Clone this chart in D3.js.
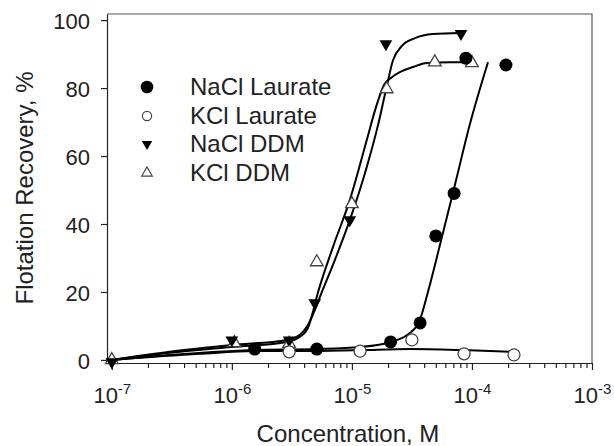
<!DOCTYPE html>
<meta charset="utf-8">
<head>
  <title>Flotation recovery</title>
</head>

<style>
  body { margin: 0; background: #fff; }
  text { font-family: "Liberation Sans", Arial, sans-serif; fill: #222; }
</style>

<body>
  <div id="my_dataviz"></div>

  <script src="https://d3js.org/d3.v7.min.js"></script>
  <script>

  // measured points (concentration in M, recovery in %)
  var naclLaurateX = [1.55e-6, 5.1e-6, 2.1e-5, 3.7e-5, 5.0e-5, 7.1e-5, 8.9e-5, 1.92e-4];
  var naclLaurateY = [3.2, 3.2, 5.3, 10.9, 36.5, 49, 88.8, 86.8];

  var kclLaurateX = [3.0e-6, 1.17e-5, 3.16e-5, 8.6e-5, 2.24e-4];
  var kclLaurateY = [2.4, 2.6, 5.9, 1.8, 1.5];

  var naclDdmX = [1e-7, 1.0e-6, 3.0e-6, 4.9e-6, 9.6e-6, 1.92e-5, 8.1e-5];
  var naclDdmY = [-0.6, 5.8, 5.8, 16.8, 41.2, 93, 96];

  var kclDdmX = [1e-7, 1.05e-6, 3.0e-6, 5.1e-6, 1.0e-5, 1.95e-5, 4.9e-5, 1.0e-4];
  var kclDdmY = [0, 5.0, 4.8, 28.8, 45.9, 79.7, 87.6, 87.4];

  // fitted curves
  var fitNaclLaurateX = [1e-7, 1.56e-6, 5.1e-6, 1.17e-5, 2.11e-5, 3.04e-5, 3.69e-5, 4.3e-5, 5.41e-5, 7.21e-5, 9.62e-5, 1.36e-4];
  var fitNaclLaurateY = [0, 2.9, 3.2, 3.8, 5.3, 7.9, 11.8, 20, 33.8, 51.5, 69.4, 87.6];

  var fitKclLaurateX = [1e-7, 5.41e-7, 1.56e-6, 3.69e-6, 1.17e-5, 3.04e-5, 8.41e-5, 2.24e-4];
  var fitKclLaurateY = [0, 1.8, 2.6, 2.6, 2.9, 3.2, 2.9, 2.4];

  var fitNaclDdmX = [1e-7, 3.04e-7, 1e-6, 2.87e-6, 3.69e-6, 4.3e-6, 4.92e-6, 5.41e-6, 7.21e-6, 9.62e-6, 1.33e-5, 1.65e-5, 1.92e-5, 2.2e-5, 2.61e-5, 3.35e-5, 4.73e-5, 8.09e-5];
  var fitNaclDdmY = [0, 2.4, 4.4, 5.9, 7.4, 10.3, 14.7, 18.5, 29.4, 41.2, 56.8, 69.1, 79.4, 88.2, 92.4, 94.7, 95.9, 96.2];

  var fitKclDdmX = [1e-7, 3.04e-7, 1e-6, 2.87e-6, 3.69e-6, 4.3e-6, 4.73e-6, 5.01e-6, 6.95e-6, 9.62e-6, 1.33e-5, 1.56e-5, 1.85e-5, 2.15e-5, 2.51e-5, 3.22e-5, 4.22e-5, 6.56e-5, 1e-4];
  var fitKclDdmY = [0, 2.1, 3.8, 5.3, 6.8, 9.4, 14.1, 17.6, 33.2, 47.1, 64.7, 73.5, 80.9, 83.2, 84.7, 86.2, 87.4, 87.6, 87.6];

  var legendLabels = ["NaCl Laurate", "KCl Laurate", "NaCl DDM", "KCl DDM"];
  var yTicks = [0, 20, 40, 60, 80, 100];
  var xMajor = [1e-7, 1e-6, 1e-5, 1e-4, 1e-3];
  var xExponents = ["-7", "-6", "-5", "-4", "-3"];

  var margin = {top: 14, right: 22, bottom: 83, left: 107},
      width = 614 - margin.left - margin.right,
      height = 446 - margin.top - margin.bottom;

  var svg = d3.select("#my_dataviz")
    .append("svg")
      .attr("width", 614)
      .attr("height", 446)
    .append("g")
      .attr("transform", "translate(" + margin.left + "," + margin.top + ")");

  var x = d3.scaleLog()
      .domain([Math.pow(10, -7.04), 1e-3])
      .range([0, width]);

  var y = d3.scaleLinear()
      .domain([-0.9, 101.8])
      .range([height, 0]);

  // frame on top and right
  svg.append("path")
      .attr("d", "M0,0H" + width + "V" + height)
      .attr("fill", "none")
      .attr("stroke", "#555")
      .attr("stroke-width", 1.2);

  // minor ticks on x
  var xMinor = [];
  xMajor.slice(0, 4).forEach(function(d) {
    for (var k = 2; k <= 9; k++) xMinor.push(d * k);
  });
  svg.append("g")
      .attr("transform", "translate(0," + height + ")")
      .call(d3.axisBottom(x).tickValues(xMinor).tickSize(5).tickFormat(""))
      .call(function(g) { g.select(".domain").remove(); });

  // x axis with 10^n labels
  var xAxis = svg.append("g")
      .attr("transform", "translate(0," + height + ")")
      .call(d3.axisBottom(x).tickValues(xMajor).tickSize(7).tickSizeOuter(0).tickFormat(""));
  xAxis.selectAll(".tick text")
      .attr("y", 40)
      .attr("dy", 0)
      .style("font-size", "22px")
      .each(function(d, i) {
        var t = d3.select(this);
        t.append("tspan").text("10");
        t.append("tspan").attr("dy", -9).style("font-size", "15px").text(xExponents[i]);
      });

  var yAxis = svg.append("g")
      .call(d3.axisLeft(y).tickValues(yTicks).tickSize(6).tickPadding(11).tickSizeOuter(0));
  yAxis.selectAll(".tick text")
      .attr("dy", "0.4em")
      .style("font-size", "22px");

  svg.selectAll(".domain, .tick line").attr("stroke", "#222").attr("stroke-width", 1.2);

  // axis titles
  svg.append("text")
      .attr("x", 241)
      .attr("y", height + 79)
      .attr("text-anchor", "middle")
      .style("font-size", "24px")
      .text("Concentration, M");

  svg.append("text")
      .attr("transform", "translate(" + (33 - margin.left) + "," + (188 - margin.top) + ") rotate(-90)")
      .attr("text-anchor", "middle")
      .style("font-size", "24px")
      .text("Flotation Recovery, %");

  // fitted lines
  var line = d3.line()
      .x(function(d) { return x(d[0]); })
      .y(function(d) { return y(d[1]); })
      .curve(d3.curveMonotoneX);

  var fits = [
    d3.zip(fitNaclLaurateX, fitNaclLaurateY),
    d3.zip(fitKclLaurateX, fitKclLaurateY),
    d3.zip(fitNaclDdmX, fitNaclDdmY),
    d3.zip(fitKclDdmX, fitKclDdmY)
  ];
  svg.selectAll(".fit")
      .data(fits)
      .enter()
      .append("path")
        .attr("class", "fit")
        .attr("d", line)
        .attr("fill", "none")
        .attr("stroke", "#000")
        .attr("stroke-width", 2);

  var triUp = function(s) { return d3.symbol().type(d3.symbolTriangle).size(s)(); };

  // markers
  svg.selectAll(".kclDdm")
      .data(d3.zip(kclDdmX, kclDdmY))
      .enter()
      .append("path")
        .attr("d", triUp(70))
        .attr("transform", function(d) { return "translate(" + x(d[0]) + "," + y(d[1]) + ")"; })
        .attr("fill", "#fff")
        .attr("stroke", "#444")
        .attr("stroke-width", 1.3);

  svg.selectAll(".naclDdm")
      .data(d3.zip(naclDdmX, naclDdmY))
      .enter()
      .append("path")
        .attr("d", triUp(70))
        .attr("transform", function(d) { return "translate(" + x(d[0]) + "," + y(d[1]) + ") rotate(180)"; })
        .attr("fill", "#000");

  svg.selectAll(".kclLaurate")
      .data(d3.zip(kclLaurateX, kclLaurateY))
      .enter()
      .append("circle")
        .attr("cx", function(d) { return x(d[0]); })
        .attr("cy", function(d) { return y(d[1]); })
        .attr("r", 6)
        .attr("fill", "#fff")
        .attr("stroke", "#444")
        .attr("stroke-width", 1.3);

  svg.selectAll(".naclLaurate")
      .data(d3.zip(naclLaurateX, naclLaurateY))
      .enter()
      .append("circle")
        .attr("cx", function(d) { return x(d[0]); })
        .attr("cy", function(d) { return y(d[1]); })
        .attr("r", 6.5)
        .attr("fill", "#000");

  // handmade legend
  var lg = svg.append("g").attr("transform", "translate(" + (147 - margin.left) + "," + (87 - margin.top) + ")");
  lg.append("circle").attr("cx", 0).attr("cy", 0).attr("r", 6.3).attr("fill", "#000");
  lg.append("circle").attr("cx", 0).attr("cy", 29).attr("r", 4.6).attr("fill", "#fff").attr("stroke", "#444").attr("stroke-width", 1.2);
  lg.append("path").attr("d", triUp(48)).attr("transform", "translate(0,57) rotate(180)").attr("fill", "#000");
  lg.append("path").attr("d", triUp(48)).attr("transform", "translate(0,86)").attr("fill", "#fff").attr("stroke", "#444").attr("stroke-width", 1.2);
  lg.selectAll("text")
      .data(legendLabels)
      .enter()
      .append("text")
        .attr("x", 43)
        .attr("y", function(d, i) { return i * 28.7 + 8; })
        .style("font-size", "24px")
        .text(function(d) { return d; });

  </script>
</body>
</html>
